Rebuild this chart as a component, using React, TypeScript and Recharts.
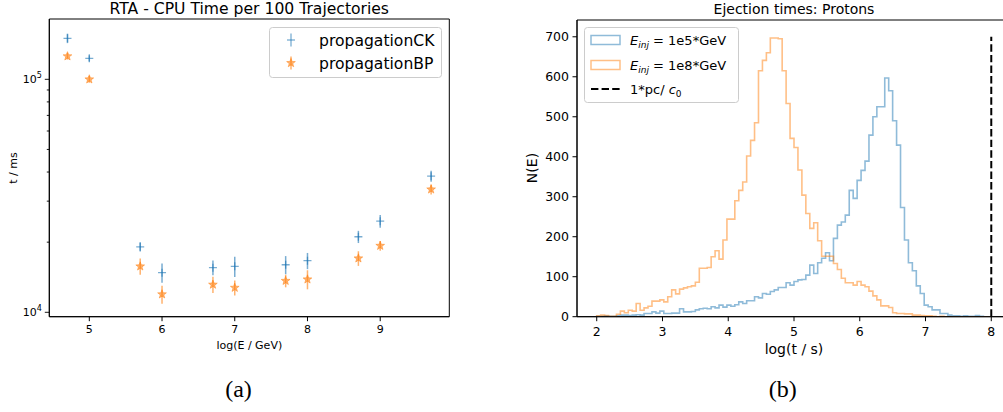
import React from "react";
import {
  ScatterChart,
  Scatter,
  ErrorBar,
  XAxis,
  YAxis,
  ReferenceArea,
  Legend,
  LineChart,
  Line,
} from "recharts";

// left panel: CPU time per 100 trajectories
const energies = [4.7, 5.0, 5.7, 6.0, 6.7, 7.0, 7.7, 8.0, 8.7, 9.0, 9.7];
const ckTimes = [150000, 123000, 19100, 14800, 15550, 15750, 16000, 16650, 21100, 24600, 38400];
const ckErrors = [7000, 3700, 860, 1400, 1140, 1560, 1430, 1330, 1270, 1540, 2100];
const bpTimes = [125600, 100000, 15750, 11950, 13150, 12750, 13650, 13850, 17050, 19300, 33700];
const bpErrors = [4000, 3300, 1250, 1060, 1050, 930, 850, 1300, 1230, 930, 1700];
const energyTicks = [5, 6, 7, 8, 9];
const timeTicks = [1e4, 2e4, 3e4, 4e4, 5e4, 6e4, 7e4, 8e4, 9e4, 1e5];

// right panel: histogram of ejection times, 100 bins from 2 to 8
const binStart = 2;
const binWidth = 0.06;
const countsE5 = [
  1, 1, 2, 1, 1, 2, 4, 4, 3, 4,
  5, 4, 8, 8, 12, 9, 14, 8, 8, 9,
  9, 20, 12, 12, 13, 17, 20, 21, 20, 25,
  22, 29, 24, 29, 26, 30, 37, 33, 40, 40,
  50, 47, 58, 56, 63, 67, 73, 73, 85, 79,
  88, 92, 93, 104, 129, 108, 135, 146, 160, 140,
  196, 229, 237, 254, 316, 296, 341, 366, 389, 454,
  500, 525, 525, 597, 565, 490, 429, 273, 192, 135,
  115, 77, 58, 29, 25, 17, 17, 8, 8, 4,
  2, 2, 1, 2, 1, 1, 3, 1, 0, 0,
];
const countsE8 = [
  2, 4, 3, 1, 1, 6, 14, 10, 16, 14,
  33, 16, 22, 26, 39, 39, 42, 37, 50, 67,
  57, 69, 72, 75, 77, 86, 121, 121, 123, 150,
  165, 144, 192, 244, 244, 290, 316, 337, 402, 441,
  485, 615, 641, 660, 697, 697, 695, 615, 533, 446,
  423, 367, 304, 258, 221, 235, 190, 151, 151, 151,
  133, 118, 96, 85, 85, 79, 88, 79, 75, 64,
  52, 42, 27, 27, 23, 10, 8, 8, 7, 7,
  4, 4, 3, 2, 2, 1, 0, 1, 0, 0,
  0, 0, 0, 0, 0, 0, 0, 0, 0, 0,
];
const pcTime = 8;
const pcHeight = 700;
const logTimeTicks = [2, 3, 4, 5, 6, 7, 8];
const countTicks = [0, 100, 200, 300, 400, 500, 600, 700];

const BLUE = "#1f77b4";
const ORANGE = "#ff7f0e";
const FONT = '"DejaVu Sans", sans-serif';

const ckData = energies.map((x, i) => ({ x, y: ckTimes[i], err: ckErrors[i] }));
const bpData = energies.map((x, i) => ({ x, y: bpTimes[i], err: bpErrors[i] }));

const toSteps = (counts: number[]) => {
  const end = binStart + counts.length * binWidth;
  const pts = [{ x: binStart, y: 0 }];
  counts.forEach((c, i) => pts.push({ x: binStart + i * binWidth, y: c }));
  pts.push({ x: end, y: counts[counts.length - 1] });
  pts.push({ x: end, y: 0 });
  return pts;
};
const stepsE5 = toSteps(countsE5);
const stepsE8 = toSteps(countsE8);
const pcLine = [
  { x: pcTime, y: 0 },
  { x: pcTime, y: pcHeight },
];

const starPoints = (cx: number, cy: number, R: number, r: number) => {
  const pts: string[] = [];
  for (let i = 0; i < 10; i++) {
    const rad = i % 2 === 0 ? R : r;
    const a = -Math.PI / 2 + (i * Math.PI) / 5;
    pts.push(`${cx + rad * Math.cos(a)},${cy + rad * Math.sin(a)}`);
  }
  return pts.join(" ");
};

const PlusMarker = (props: any) => {
  const { cx, cy } = props;
  return (
    <g stroke={BLUE} strokeOpacity={0.6} strokeWidth={1.3}>
      <line x1={cx - 4} x2={cx + 4} y1={cy} y2={cy} />
      <line x1={cx} x2={cx} y1={cy - 4} y2={cy + 4} />
    </g>
  );
};

const StarMarker = (props: any) => {
  const { cx, cy } = props;
  return (
    <polygon
      points={starPoints(cx, cy, 4.6, 1.9)}
      fill={ORANGE}
      fillOpacity={0.6}
      stroke={ORANGE}
      strokeOpacity={0.6}
      strokeWidth={0.8}
    />
  );
};

const LogTick = (props: any) => {
  const { x, y, payload } = props;
  const lg = Math.log10(payload.value);
  const exp = Math.round(lg);
  const major = Math.abs(lg - exp) < 1e-9;
  return (
    <g>
      <line x1={x} x2={x - (major ? 4.5 : 2.5)} y1={y} y2={y} stroke="#000" strokeWidth={0.9} />
      {major && (
        <text x={x - 7.5} y={y} dy={4} textAnchor="end" fontSize={11} fill="#000" fontFamily={FONT}>
          10
          <tspan dy={-5.5} fontSize={8}>
            {exp}
          </tspan>
        </text>
      )}
    </g>
  );
};

const CpuLegend = () => (
  <svg width={174} height={52} style={{ display: "block" }}>
    <rect x={0.5} y={0.5} width={172} height={50} rx={3} fill="#fff" fillOpacity={0.8} stroke="#ccc" />
    <g stroke={BLUE} strokeOpacity={0.6} strokeWidth={1.3}>
      <line x1={22} x2={22} y1={6.5} y2={19.5} />
      <line x1={18} x2={26} y1={13} y2={13} />
    </g>
    <line x1={22} x2={22} y1={29.5} y2={42.5} stroke={ORANGE} strokeOpacity={0.6} strokeWidth={1.5} />
    <polygon points={starPoints(22, 36, 4.6, 1.9)} fill={ORANGE} fillOpacity={0.6} stroke={ORANGE} strokeOpacity={0.6} strokeWidth={0.8} />
    <text x={50} y={18.5} fontSize={15.6} fontFamily={FONT} fill="#000">
      propagationCK
    </text>
    <text x={50} y={41.5} fontSize={15.6} fontFamily={FONT} fill="#000">
      propagationBP
    </text>
  </svg>
);

const InjLabel = ({ y, value }: { y: number; value: string }) => (
  <text x={46} y={y} fontSize={13} fontFamily={FONT} fill="#000">
    <tspan fontStyle="italic">E</tspan>
    <tspan fontStyle="italic" fontSize={9} dy={3}>
      inj
    </tspan>
    <tspan dy={-3}>{` = ${value}`}</tspan>
  </text>
);

const HistLegend = () => (
  <svg width={156} height={77} style={{ display: "block" }}>
    <rect x={0.5} y={0.5} width={154} height={75} rx={3} fill="#fff" fillOpacity={0.8} stroke="#ccc" />
    <rect x={7} y={8.5} width={29} height={9} fill="none" stroke={BLUE} strokeOpacity={0.5} strokeWidth={1.5} />
    <rect x={7} y={33.5} width={29} height={9} fill="none" stroke={ORANGE} strokeOpacity={0.5} strokeWidth={1.5} />
    <line x1={7} x2={36} y1={62} y2={62} stroke="#000" strokeWidth={2} strokeDasharray="7.4 3.2" />
    <InjLabel y={17.5} value="1e5*GeV" />
    <InjLabel y={42.5} value="1e8*GeV" />
    <text x={46} y={66.5} fontSize={13} fontFamily={FONT} fill="#000">
      1*pc/{" "}
      <tspan fontStyle="italic">c</tspan>
      <tspan fontSize={9} dy={3}>
        0
      </tspan>
    </text>
  </svg>
);

export default function App() {
  return (
    <div
      style={{
        position: "absolute",
        left: 0,
        top: 0,
        width: 1003,
        height: 412,
        overflow: "hidden",
        background: "#fff",
        fontFamily: FONT,
      }}
    >
      <div style={{ position: "absolute", left: 0, top: 0 }}>
        <ScatterChart width={460} height={412} margin={{ top: 19, right: 10.7, bottom: 65.3, left: 0 }}>
          <XAxis
            type="number"
            dataKey="x"
            domain={[4.45, 9.95]}
            ticks={energyTicks}
            interval={0}
            allowDataOverflow
            height={30}
            tickSize={4.5}
            tickMargin={4}
            stroke="#000"
            tick={{ fill: "#000", fontSize: 11, fontFamily: FONT }}
          />
          <YAxis
            type="number"
            dataKey="y"
            scale="log"
            domain={[9575, 181500]}
            ticks={timeTicks}
            interval={0}
            allowDataOverflow
            width={49.3}
            tickLine={false}
            tickSize={0}
            tickMargin={0}
            stroke="#000"
            tick={(p: any) => <LogTick {...p} />}
          />
          <ReferenceArea x1={4.45} x2={9.95} y1={9575} y2={181500} fill="none" stroke="#000" strokeWidth={1} ifOverflow="visible" />
          <Scatter data={ckData} shape={PlusMarker} isAnimationActive={false}>
            <ErrorBar dataKey="err" direction="y" width={0} stroke={BLUE} strokeOpacity={0.6} strokeWidth={1.5} />
          </Scatter>
          <Scatter data={bpData} shape={StarMarker} isAnimationActive={false}>
            <ErrorBar dataKey="err" direction="y" width={0} stroke={ORANGE} strokeOpacity={0.6} strokeWidth={1.5} />
          </Scatter>
          <Legend
            layout="vertical"
            align="center"
            verticalAlign="middle"
            content={() => <CpuLegend />}
            wrapperStyle={{ left: 269, top: 27, width: 174, height: 52 }}
          />
        </ScatterChart>
      </div>

      <div style={{ position: "absolute", left: 500, top: 0 }}>
        <LineChart width={520} height={412} margin={{ top: 20, right: 9, bottom: 65.3, left: 0 }}>
          <XAxis
            type="number"
            dataKey="x"
            domain={[1.7, 8.3]}
            ticks={logTimeTicks}
            interval={0}
            allowDataOverflow
            height={30}
            tickSize={4.5}
            tickMargin={6}
            stroke="#000"
            tick={{ fill: "#000", fontSize: 12.5, fontFamily: FONT }}
          />
          <YAxis
            type="number"
            domain={[0, 742]}
            ticks={countTicks}
            interval={0}
            allowDataOverflow
            width={77}
            tickSize={4.5}
            tickMargin={3.5}
            stroke="#000"
            tick={{ fill: "#000", fontSize: 12.5, fontFamily: FONT }}
          />
          <ReferenceArea x1={1.7} x2={8.3} y1={0} y2={742} fill="none" stroke="#000" strokeWidth={1} ifOverflow="visible" />
          <Line data={stepsE5} dataKey="y" type="stepAfter" stroke={BLUE} strokeOpacity={0.5} strokeWidth={1.6} dot={false} isAnimationActive={false} />
          <Line data={stepsE8} dataKey="y" type="stepAfter" stroke={ORANGE} strokeOpacity={0.5} strokeWidth={1.6} dot={false} isAnimationActive={false} />
          <Line data={pcLine} dataKey="y" type="linear" stroke="#000" strokeWidth={2} strokeDasharray="7.4 3.2" dot={false} isAnimationActive={false} />
          <Legend
            layout="vertical"
            align="center"
            verticalAlign="middle"
            content={() => <HistLegend />}
            wrapperStyle={{ left: 83.5, top: 27, width: 156, height: 77 }}
          />
        </LineChart>
      </div>

      <svg width={1003} height={412} style={{ position: "absolute", left: 0, top: 0, pointerEvents: "none" }} fontFamily={FONT}>
        <text x={249.3} y={13.5} textAnchor="middle" fontSize={15.6} fill="#000">
          RTA - CPU Time per 100 Trajectories
        </text>
        <text x={249.3} y={349} textAnchor="middle" fontSize={11} fill="#000">
          log(E / GeV)
        </text>
        <text x={17} y={168} textAnchor="middle" fontSize={11} fill="#000" transform="rotate(-90 17 168)">
          t / ms
        </text>
        <text x={794} y={13.5} textAnchor="middle" fontSize={14} fill="#000">
          Ejection times: Protons
        </text>
        <text x={794} y={354} textAnchor="middle" fontSize={14} fill="#000">
          log(t / s)
        </text>
        <text x={537} y={168} textAnchor="middle" fontSize={14} fill="#000" transform="rotate(-90 537 168)">
          N(E)
        </text>
        <text x={238.5} y={397} textAnchor="middle" fontSize={24} fill="#000" fontFamily='"Liberation Serif", serif'>
          (a)
        </text>
        <text x={782.7} y={397} textAnchor="middle" fontSize={24} fill="#000" fontFamily='"Liberation Serif", serif'>
          (b)
        </text>
      </svg>
    </div>
  );
}
